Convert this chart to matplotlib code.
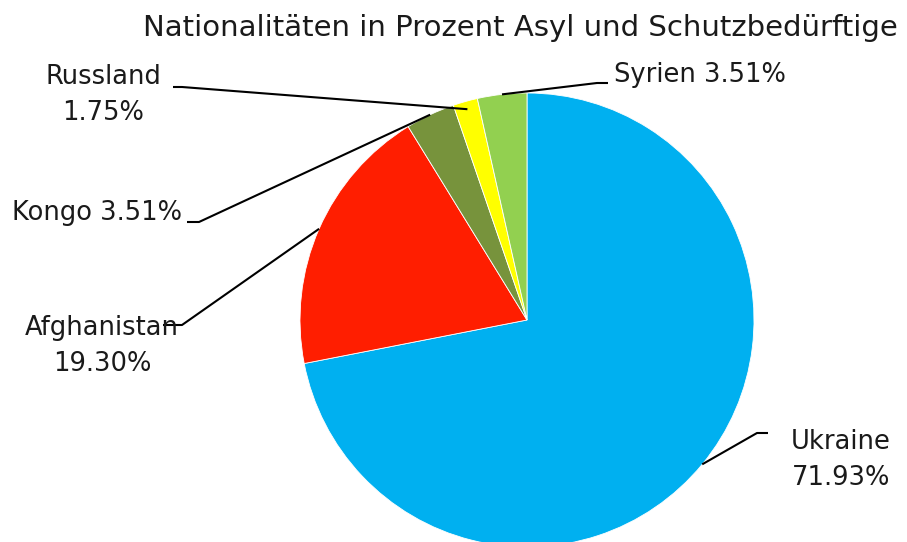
import numpy as np
import matplotlib
matplotlib.use("Agg")
import matplotlib.pyplot as plt

plt.rcParams['font.family'] = ['DejaVu Sans']

countries = ["Ukraine", "Afghanistan", "Kongo", "Russland", "Syrien"]
shares = [71.93, 19.30, 3.51, 1.75, 3.51]
colors = ["#00B0F0", "#FF1E00", "#77933C", "#FFFF00", "#92D050"]
title = "Nationalitäten in Prozent Asyl und Schutzbedürftige"

W, H = 907, 542
cx, cy, R = 527, 320, 227  # pie centre / radius in pixels


def px(x, y):
    # pixel position (from top-left) -> data units of the pie
    return (x - cx) / R, (cy - y) / R


fig = plt.figure(figsize=(W / 100, H / 100), dpi=100)
ax = fig.add_axes([0, 0, 1, 1])
wedges, _ = ax.pie(shares, colors=colors, startangle=90, counterclock=False,
                   radius=1, wedgeprops=dict(edgecolor="white", linewidth=0.6))
ax.set_xlim(-cx / R, (W - cx) / R)
ax.set_ylim((cy - H) / R, cy / R)
ax.axis("off")

txt = "#1a1a1a"
fs = 18.5

# label layout: elbow of leader, end of the short horizontal piece, text pos, align
layout = {
    "Ukraine":     ((757, 433), (768, 433), (841, 460), "center", True, 1.0),
    "Afghanistan": ((182, 325), (163, 325), (102, 346), "center", True, 1.0),
    "Kongo":       ((199, 222), (187, 222), (182, 213), "right", False, 1.0),
    "Russland":    ((182, 87), (173, 87), (103, 95), "center", True, 0.965),
    "Syrien":      ((597, 83), (608, 83), (614, 75), "left", False, 1.0),
}

for w, name, val in zip(wedges, countries, shares):
    elbow, end, tpos, ha, two_lines, r = layout[name]
    mid = np.deg2rad((w.theta1 + w.theta2) / 2)
    start = (r * np.cos(mid), r * np.sin(mid))
    ex, ey = px(*elbow)
    hx, hy = px(*end)
    ax.plot([start[0], ex, hx], [start[1], ey, hy], color="black", lw=1.5,
            solid_capstyle="butt")
    label = f"{name}\n{val:.2f}%" if two_lines else f"{name} {val:.2f}%"
    tx, ty = px(*tpos)
    ax.text(tx, ty, label, ha=ha, va="center", fontsize=fs, color=txt,
            linespacing=1.5)

fig.text(520 / W, 1 - 28 / H, title, ha="center", va="center",
         fontsize=21, color=txt)

fig.savefig("out.png", dpi=100)
